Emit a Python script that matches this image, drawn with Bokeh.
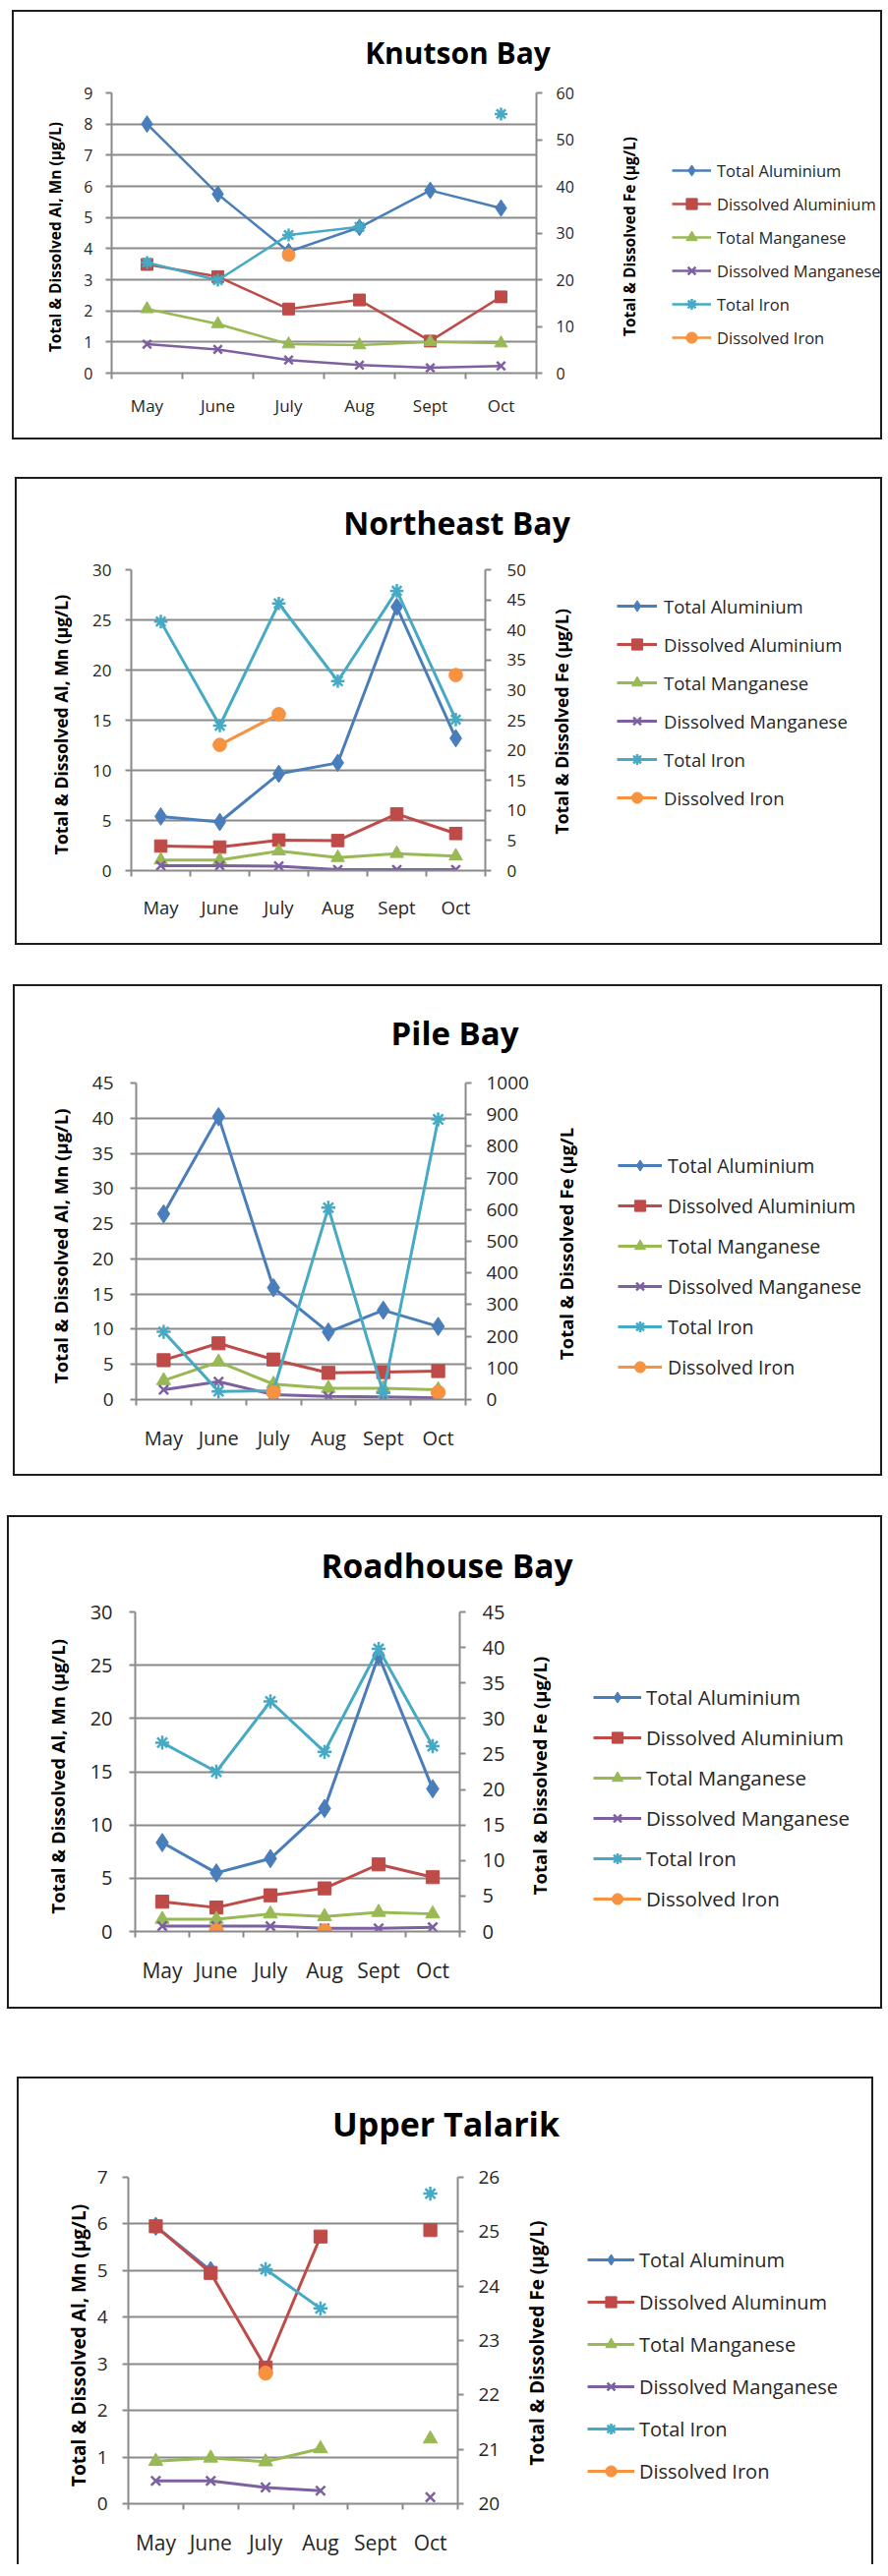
import math
from bokeh.plotting import figure
from bokeh.models import Range1d, LinearAxis, FixedTicker, Legend, LegendItem, Label
from bokeh.layouts import column, row
from bokeh.embed import file_html
from bokeh.resources import INLINE

nan = float("nan")

# ---------------- data ----------------
months = ["May", "June", "July", "Aug", "Sept", "Oct"]
names_uk = ["Total Aluminium", "Dissolved Aluminium", "Total Manganese",
            "Dissolved Manganese", "Total Iron", "Dissolved Iron"]
names_us = ["Total Aluminum", "Dissolved Aluminum", "Total Manganese",
            "Dissolved Manganese", "Total Iron", "Dissolved Iron"]
left_label = "Total & Dissolved  Al, Mn  (µg/L)"
right_label = "Total & Dissolved  Fe (µg/L)"
right_label_pile = "Total & Dissolved  Fe (µg/L"

# Knutson Bay
knutson_total_al = [8.0, 5.75, 3.9, 4.68, 5.87, 5.3]
knutson_diss_al = [3.49, 3.1, 2.06, 2.35, 1.03, 2.45]
knutson_total_mn = [2.06, 1.58, 0.93, 0.9, 1.0, 0.96]
knutson_diss_mn = [0.93, 0.76, 0.42, 0.26, 0.17, 0.23]
knutson_total_fe = [23.7, 19.9, 29.6, 31.3, nan, 55.5]
knutson_diss_fe = [nan, nan, 25.3, nan, nan, nan]
knutson_left_ticks = [0, 1, 2, 3, 4, 5, 6, 7, 8, 9]
knutson_right_ticks = [0, 10, 20, 30, 40, 50, 60]

# Northeast Bay
northeast_total_al = [5.4, 4.85, 9.65, 10.75, 26.3, 13.2]
northeast_diss_al = [2.45, 2.35, 3.05, 3.0, 5.65, 3.7]
northeast_total_mn = [1.05, 1.05, 1.95, 1.3, 1.7, 1.45]
northeast_diss_mn = [0.5, 0.5, 0.45, 0.1, 0.1, 0.1]
northeast_total_fe = [41.4, 24.1, 44.4, 31.5, 46.5, 25.1]
northeast_diss_fe = [nan, 20.9, 26.0, nan, nan, 32.5]
northeast_left_ticks = [0, 5, 10, 15, 20, 25, 30]
northeast_right_ticks = [0, 5, 10, 15, 20, 25, 30, 35, 40, 45, 50]

# Pile Bay
pile_total_al = [26.4, 40.2, 15.9, 9.6, 12.7, 10.4]
pile_diss_al = [5.6, 8.0, 5.7, 3.8, 3.9, 4.05]
pile_total_mn = [2.7, 5.35, 2.2, 1.6, 1.6, 1.4]
pile_diss_mn = [1.4, 2.55, 0.7, 0.45, 0.4, 0.25]
pile_total_fe = [214, 26, 28, 606, 21, 885]
pile_diss_fe = [nan, nan, 23, nan, nan, 23]
pile_left_ticks = [0, 5, 10, 15, 20, 25, 30, 35, 40, 45]
pile_right_ticks = [0, 100, 200, 300, 400, 500, 600, 700, 800, 900, 1000]

# Roadhouse Bay
roadhouse_total_al = [8.35, 5.5, 6.85, 11.55, 25.9, 13.4]
roadhouse_diss_al = [2.8, 2.25, 3.4, 4.05, 6.3, 5.1]
roadhouse_total_mn = [1.15, 1.15, 1.65, 1.4, 1.8, 1.65]
roadhouse_diss_mn = [0.5, 0.5, 0.5, 0.3, 0.3, 0.4]
roadhouse_total_fe = [26.6, 22.5, 32.4, 25.3, 39.8, 26.1]
roadhouse_diss_fe = [nan, 0.1, nan, 0.1, nan, nan]
roadhouse_left_ticks = [0, 5, 10, 15, 20, 25, 30]
roadhouse_right_ticks = [0, 5, 10, 15, 20, 25, 30, 35, 40, 45]

# Upper Talarik
talarik_total_al = [5.95, 5.0, nan, nan, nan, nan]
talarik_diss_al = [5.95, 4.95, 2.92, 5.73, nan, 5.87]
talarik_total_mn = [0.91, 0.98, 0.9, 1.18, nan, 1.39]
talarik_diss_mn = [0.49, 0.49, 0.35, 0.28, nan, 0.14]
talarik_total_fe = [nan, nan, 24.31, 23.59, nan, 25.70]
talarik_diss_fe = [nan, nan, 22.4, nan, nan, nan]
talarik_left_ticks = [0, 1, 2, 3, 4, 5, 6, 7]
talarik_right_ticks = [20, 21, 22, 23, 24, 25, 26]

# ---------------- styles ----------------
FONT = "Open Sans"
TXT = "#262626"
GRAY = "#8a8a8a"
NOSHRINK = {"flex-shrink": "0", "flex-grow": "0"}
series_style = [
    dict(color="#4A7EBB", marker="diamond", size=17),
    dict(color="#BE4B48", marker="square", size=12),
    dict(color="#98B954", marker="triangle", size=13),
    dict(color="#7D60A0", marker="x", size=12),
    dict(color="#46AAC5", marker="asterisk", size=13),
    dict(color="#F69240", marker="circle", size=13),
]


def draw_series(p, xs, vals, i, st, g):
    kw = {"y_range_name": "fe"} if (i >= 4 and "fe" in p.extra_y_ranges) else {}
    ln = p.line(xs, vals, line_color=st["color"], line_width=g["lw"], **kw)
    if st["marker"] in ("x", "asterisk"):
        mk = p.scatter(xs, vals, marker=st["marker"], size=st["size"] * g["ms"],
                       line_color=st["color"], line_width=2.5, **kw)
    else:
        mk = p.scatter(xs, vals, marker=st["marker"], size=st["size"] * g["ms"],
                       fill_color=st["color"], line_color=st["color"], line_width=1, **kw)
    return ln, mk


def blank_figure(w, h, left=0, top=0, bottom=0):
    f = figure(width=w, height=h, x_range=Range1d(0, 1), y_range=Range1d(0, 1),
               output_backend="svg", toolbar_location=None, title=None,
               min_border_left=left, min_border_top=top,
               min_border_right=0, min_border_bottom=bottom,
               x_axis_location=None, y_axis_location=None)
    f.outline_line_color = None
    f.grid.visible = False
    f.background_fill_color = "white"
    f.border_fill_color = "white"
    f.styles = dict(NOSHRINK)
    return f


def make_panel(title, series, names, lticks, rticks, rlabel, g):
    xs = list(range(1, len(months) + 1))
    W, H, Ht, Wc = g["W"], g["H"], g["Ht"], g["Wc"]
    Hb = H - Ht

    # ---- title strip (same left border as the chart so frames line up) ----
    tf = blank_figure(W, Ht, left=g["mbl"])
    tf.add_layout(Label(x=g["tx"] - g["mbl"], y=g["ty"], x_units="screen", y_units="screen",
                        text=title, text_align="center", text_baseline="middle",
                        text_font=FONT, text_font_style="bold",
                        text_font_size=g["tfs"], text_color="black"))

    # ---- chart ----
    p = figure(width=Wc, height=Hb,
               x_range=Range1d(0.5, len(months) + 0.5),
               y_range=Range1d(lticks[0], lticks[-1]),
               output_backend="svg", toolbar_location=None, title=None,
               min_border_left=g["mbl"], min_border_right=g["mbr"],
               min_border_top=g["mbt"], min_border_bottom=g["mbb"])
    p.styles = dict(NOSHRINK)
    p.extra_y_ranges = {"fe": Range1d(rticks[0], rticks[-1])}
    p.outline_line_color = None
    p.background_fill_color = "white"
    p.border_fill_color = "white"
    p.xgrid.visible = False
    p.ygrid.grid_line_color = GRAY
    p.ygrid.grid_line_width = 2
    p.ygrid.ticker = FixedTicker(ticks=lticks)

    xa = p.xaxis[0]
    xa.ticker = FixedTicker(ticks=xs, minor_ticks=[x - 0.5 for x in xs] + [xs[-1] + 0.5])
    xa.major_label_overrides = {x: m for x, m in zip(xs, months)}
    xa.major_tick_line_color = None
    xa.major_tick_out = 0
    xa.major_tick_in = 0
    xa.minor_tick_line_color = GRAY
    xa.minor_tick_line_width = 2
    xa.minor_tick_out = 6
    xa.minor_tick_in = 0
    xa.axis_line_color = GRAY
    xa.axis_line_width = 2
    xa.major_label_text_font = FONT
    xa.major_label_text_font_size = g["xfs"]
    xa.major_label_text_color = TXT
    xa.major_label_standoff = g["xso"]

    ya = p.yaxis[0]
    ya.ticker = FixedTicker(ticks=lticks)
    ya.axis_label = left_label
    ya.axis_label_text_font = FONT
    ya.axis_label_text_font_style = "bold"
    ya.axis_label_text_font_size = g["afs"]
    ya.axis_label_text_color = "black"
    ya.axis_label_standoff = g["llso"]
    right = LinearAxis(y_range_name="fe")
    right.ticker = FixedTicker(ticks=rticks)
    p.add_layout(right, "right")
    for ax, so in ((ya, g["lso"]), (right, g["rso"])):
        ax.axis_line_color = GRAY
        ax.axis_line_width = 2
        ax.major_tick_line_color = GRAY
        ax.major_tick_line_width = 2
        ax.major_tick_out = 6
        ax.major_tick_in = 0
        ax.minor_tick_line_color = None
        ax.major_label_text_font = FONT
        ax.major_label_text_font_size = g["yfs"]
        ax.major_label_text_color = TXT
        ax.major_label_standoff = so

    for i, (vals, st) in enumerate(zip(series, series_style)):
        draw_series(p, xs, vals, i, st, g)

    # ---- side strip: Fe axis title + legend, frame spans the chart frame height ----
    sf = blank_figure(W - Wc, Hb, top=g["mbt"], bottom=g["mbb"])
    sf.add_layout(Label(x=g["fx"], y=g["fy"], x_units="screen", y_units="screen",
                        text=rlabel, angle=math.pi / 2, text_align="center",
                        text_baseline="middle", text_font=FONT,
                        text_font_style="bold", text_font_size=g["afs"],
                        text_color="black"))
    items = []
    for i, (n, st) in enumerate(zip(names, series_style)):
        ln, mk = draw_series(sf, [nan], [nan], i, st, g)
        items.append(LegendItem(label=n, renderers=[ln, mk]))
    leg = Legend(items=items, location=(g["lgx"], g["lgy"]), orientation="vertical",
                 padding=0, margin=0, spacing=g["legsp"], glyph_width=g["gw"],
                 glyph_height=28, label_height=28, label_standoff=g["lst"],
                 border_line_color=None, background_fill_alpha=0,
                 label_text_font=FONT, label_text_font_size=g["lfs"],
                 label_text_color=TXT)
    sf.add_layout(leg)

    body = row(p, sf, spacing=0)
    body.styles = dict(NOSHRINK)
    box = column(tf, body, spacing=0, margin=g["margin"])
    box.styles = {"box-shadow": g.get("shadow", "0 0 0 2px #1e1e1e"), **NOSHRINK}
    return box


g1 = dict(W=881, H=433, Ht=68, Wc=575, mbl=99, mbr=44, mbt=14, mbb=66,
          margin=(12, 0, 0, 14),
          xfs="17px", xso=15, yfs="16px", lso=13, llso=15, rso=14, afs="15.5px",
          fx=50, fy=141,
          lw=2.5, ms=1.0, lgx=94, lgy=22, legsp=6, gw=40, lst=6, lfs="16.5px",
          tx=451, ty=27, tfs="30px")
g2 = dict(W=878, H=472, Ht=75, Wc=522, mbl=116, mbr=46, mbt=17, mbb=74,
          margin=(42, 0, 0, 17),
          xfs="18.5px", xso=18, yfs="17px", lso=14, llso=17, rso=16, afs="17.5px",
          fx=31, fy=154,
          lw=3, ms=1.05, lgx=88, lgy=60, legsp=11, gw=41, lst=7, lfs="18.5px",
          tx=447, ty=31, tfs="32px")
g3 = dict(W=880, H=496, Ht=80, Wc=526, mbl=123, mbr=68, mbt=18, mbb=76,
          margin=(44, 0, 0, 15),
          xfs="20px", xso=19, yfs="19px", lso=17, llso=17, rso=15, afs="18.5px",
          fx=34, fy=161,
          lw=3, ms=1.1, lgx=87, lgy=19, legsp=13, gw=45, lst=6, lfs="19.5px",
          tx=447, ty=33, tfs="33px")
g4 = dict(W=886, H=498, Ht=78, Wc=508, mbl=128, mbr=50, mbt=18, mbb=77,
          margin=(44, 0, 0, 9),
          xfs="21px", xso=19, yfs="20px", lso=17, llso=18, rso=17, afs="18.5px",
          fx=31, fy=161,
          lw=3, ms=1.1, lgx=86, lgy=19, legsp=13, gw=49, lst=5, lfs="20.5px",
          tx=445, ty=30, tfs="33.5px")
g5 = dict(W=867, H=496, Ht=80, Wc=493, mbl=111, mbr=47, mbt=20, mbb=64,
          margin=(73, 0, 0, 19),
          xfs="21px", xso=19, yfs="19px", lso=15, llso=3, rso=15, afs="19px",
          fx=33, fy=166,
          lw=3, ms=1.1, lgx=85, lgy=19, legsp=15, gw=48, lst=5, lfs="20px",
          tx=434, ty=35, tfs="34px",
          shadow="-2px -2px 0 0 #1e1e1e, 2px -2px 0 0 #1e1e1e")

p1 = make_panel("Knutson Bay",
                [knutson_total_al, knutson_diss_al, knutson_total_mn,
                 knutson_diss_mn, knutson_total_fe, knutson_diss_fe],
                names_uk, knutson_left_ticks, knutson_right_ticks, right_label, g1)
p2 = make_panel("Northeast Bay",
                [northeast_total_al, northeast_diss_al, northeast_total_mn,
                 northeast_diss_mn, northeast_total_fe, northeast_diss_fe],
                names_uk, northeast_left_ticks, northeast_right_ticks, right_label, g2)
p3 = make_panel("Pile Bay",
                [pile_total_al, pile_diss_al, pile_total_mn,
                 pile_diss_mn, pile_total_fe, pile_diss_fe],
                names_uk, pile_left_ticks, pile_right_ticks, right_label_pile, g3)
p4 = make_panel("Roadhouse Bay",
                [roadhouse_total_al, roadhouse_diss_al, roadhouse_total_mn,
                 roadhouse_diss_mn, roadhouse_total_fe, roadhouse_diss_fe],
                names_uk, roadhouse_left_ticks, roadhouse_right_ticks, right_label, g4)
p5 = make_panel("Upper Talarik",
                [talarik_total_al, talarik_diss_al, talarik_total_mn,
                 talarik_diss_mn, talarik_total_fe, talarik_diss_fe],
                names_us, talarik_left_ticks, talarik_right_ticks, right_label, g5)

layout = column(p1, p2, p3, p4, p5, spacing=0)
open("out.html", "w").write(file_html(layout, INLINE))
